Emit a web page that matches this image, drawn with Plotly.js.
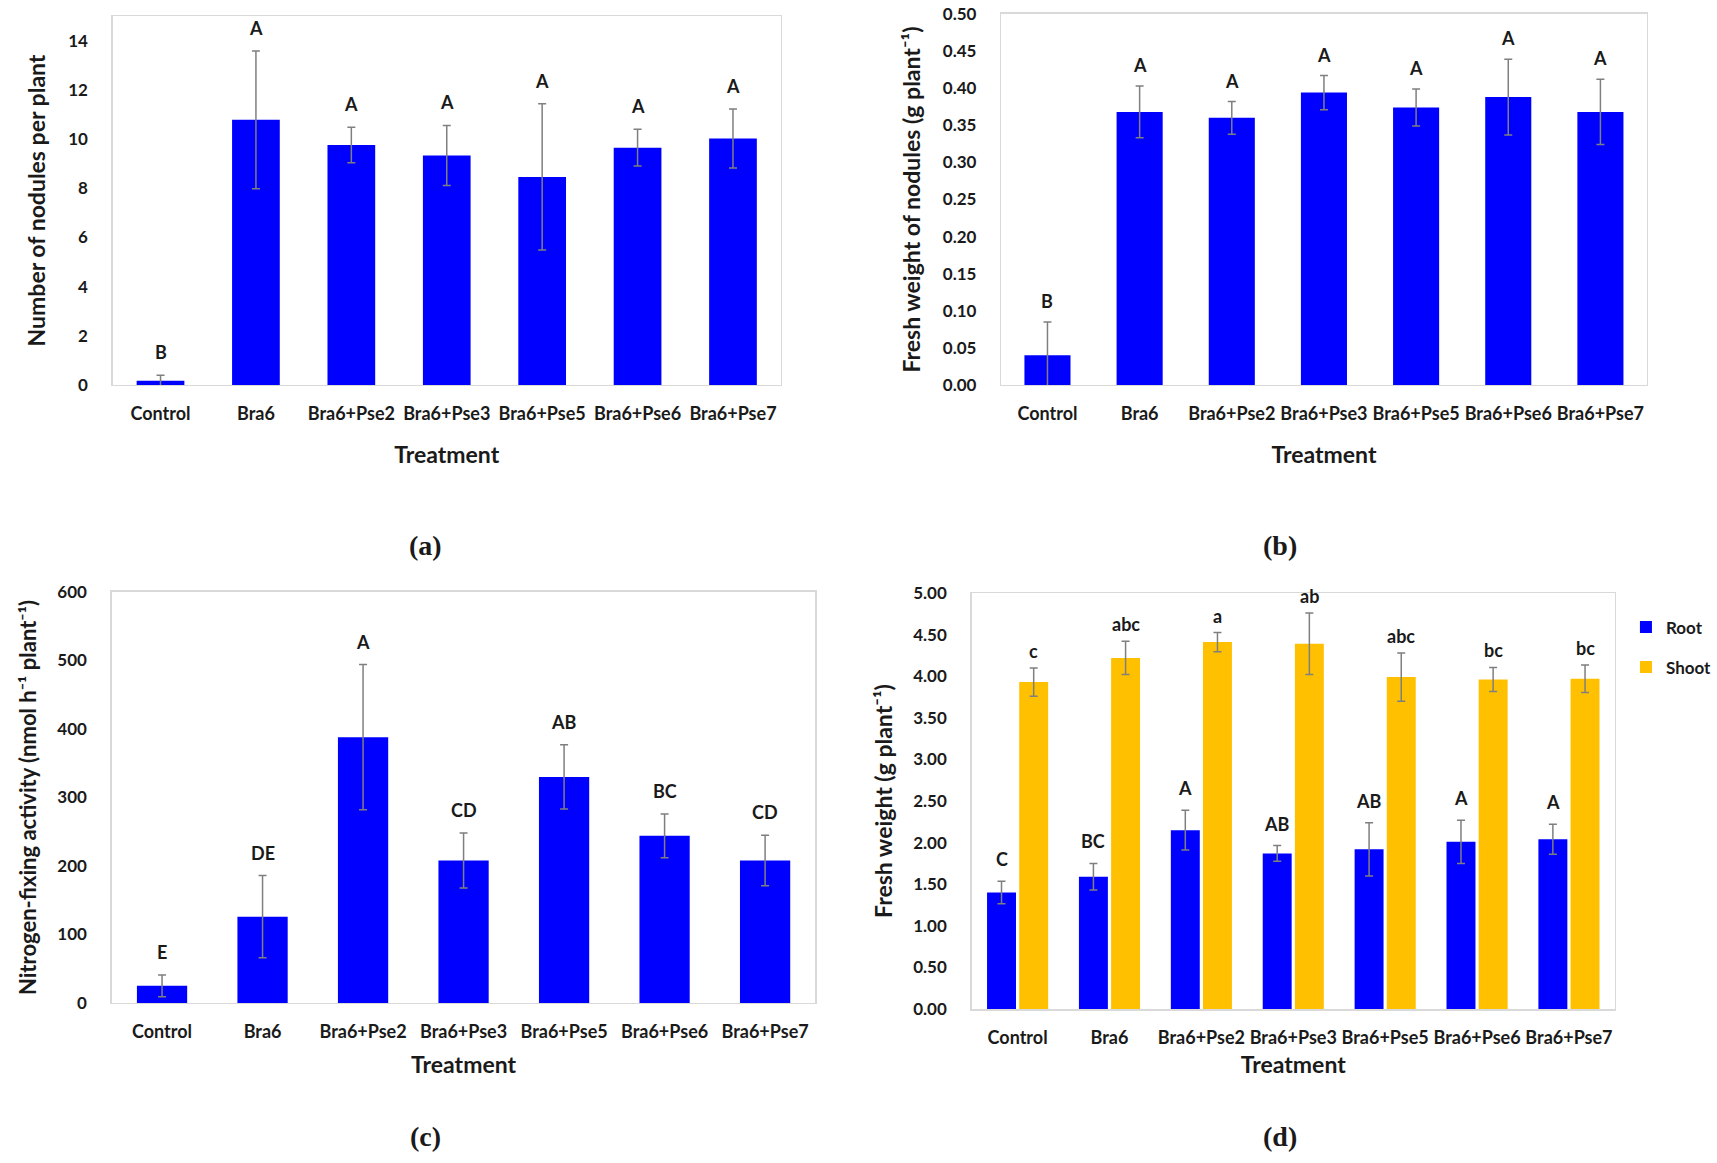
<!DOCTYPE html>
<html>
<head>
<meta charset="utf-8">
<script src="https://cdn.plot.ly/plotly-3.0.1.min.js"></script>
<style>html,body{margin:0;padding:0;background:#fff;}#chart{width:1717px;height:1163px;}</style>
</head>
<body>
<div id="chart"></div>
<script>
// ---- data ----
const categories = ["Control", "Bra6", "Bra6+Pse2", "Bra6+Pse3", "Bra6+Pse5", "Bra6+Pse6", "Bra6+Pse7"];

// (a) Number of nodules per plant
const nodulesMean = [0.17, 10.78, 9.76, 9.33, 8.46, 9.65, 10.02];
const nodulesErr  = [0.22, 2.80, 0.72, 1.22, 2.97, 0.75, 1.20];
const nodulesLetters = ["B", "A", "A", "A", "A", "A", "A"];

// (b) Fresh weight of nodules (g plant-1)
const noduleWtMean = [0.040, 0.368, 0.360, 0.394, 0.374, 0.388, 0.368];
const noduleWtErr  = [0.045, 0.035, 0.022, 0.023, 0.025, 0.051, 0.044];
const noduleWtLetters = ["B", "A", "A", "A", "A", "A", "A"];

// (c) Nitrogen-fixing activity (nmol h-1 plant-1)
const nfixMean = [25, 126, 388, 208, 330, 244, 208];
const nfixErr  = [16, 60, 106, 40, 47, 32, 37];
const nfixLetters = ["E", "DE", "A", "CD", "AB", "BC", "CD"];

// (d) Fresh weight (g plant-1)
const rootMean = [1.40, 1.59, 2.15, 1.87, 1.92, 2.01, 2.04];
const rootErr  = [0.135, 0.16, 0.24, 0.095, 0.32, 0.26, 0.18];
const rootLetters = ["C", "BC", "A", "AB", "AB", "A", "A"];
const shootMean = [3.93, 4.22, 4.41, 4.39, 3.99, 3.96, 3.97];
const shootErr  = [0.17, 0.20, 0.115, 0.37, 0.29, 0.145, 0.165];
const shootLetters = ["c", "abc", "a", "ab", "abc", "bc", "bc"];

// ---- styles ----
const BLUE = "#0000ff", GOLD = "#ffc000", ERRC = "#7f7f7f", TXT = "#1a1a1a";
const FONT = "Lato, 'Open Sans', sans-serif";
const xTickFont = {family: FONT, size: 18, color: TXT, weight: "bold"};
const yTickFont = {family: FONT, size: 17, color: TXT, weight: "bold"};
const titleFont = {family: FONT, size: 23, color: TXT, weight: "bold"};
const letterFont = {family: FONT, size: 18, color: TXT, weight: "bold"};

function errBar(arr) {
  return {type: "data", array: arr, visible: true, color: ERRC, thickness: 1.5, width: 4};
}
function barTrace(y, err, xa, ya, color, name, show, extra) {
  return Object.assign({
    type: "bar", x: categories, y: y, error_y: errBar(err),
    marker: {color: color}, xaxis: xa, yaxis: ya, name: name, showlegend: show,
    hoverinfo: "x+y"
  }, extra || {});
}

const traces = [
  barTrace(nodulesMean, nodulesErr, "x", "y", BLUE, "Nodules", false, {width: 0.5}),
  barTrace(noduleWtMean, noduleWtErr, "x2", "y2", BLUE, "Nodule weight", false, {width: 0.5}),
  barTrace(nfixMean, nfixErr, "x3", "y3", BLUE, "N-fixing activity", false, {width: 0.5}),
  barTrace(rootMean, rootErr, "x4", "y4", BLUE, "Root", true, {legendgroup: "root", offsetgroup: "r"}),
  barTrace(shootMean, shootErr, "x4", "y4", GOLD, "Shoot", true, {legendgroup: "shoot", offsetgroup: "s"})
];

// ---- annotations ----
const annotations = [];
function addLetters(means, errs, letters, xref, yref, dx, shift) {
  letters.forEach((t, i) => {
    annotations.push({
      x: i + dx, y: means[i] + errs[i], xref: xref, yref: yref, text: t,
      showarrow: false, yanchor: "middle", yshift: shift, font: letterFont
    });
  });
}
addLetters(nodulesMean, nodulesErr, nodulesLetters, "x", "y", 0, 23);
addLetters(noduleWtMean, noduleWtErr, noduleWtLetters, "x2", "y2", 0, 21);
addLetters(nfixMean, nfixErr, nfixLetters, "x3", "y3", 0, 23);
addLetters(rootMean, rootErr, rootLetters, "x4", "y4", -0.175, 22);
addLetters(shootMean, shootErr, shootLetters, "x4", "y4", 0.175, 17);

const panelFont = {family: "'Liberation Serif', 'DejaVu Serif', serif", size: 28, color: TXT, weight: "bold"};
[["(a)", 0.2505, 0.531], ["(b)", 0.7536, 0.531], ["(c)", 0.2505, 0.0225], ["(d)", 0.7536, 0.0225]].forEach(p => {
  annotations.push({x: p[1], y: p[2], xref: "paper", yref: "paper", text: p[0],
    showarrow: false, xanchor: "center", yanchor: "middle", font: panelFont});
});

// ---- axes ----
function xAxis(domain, anchor, titleStandoff) {
  return {
    domain: domain, anchor: anchor, type: "category", range: [-0.5, 6.5],
    showline: true, mirror: true, linecolor: "#d9d9d9", linewidth: 1.5,
    showgrid: false, ticks: "", tickfont: xTickFont, ticklabelstandoff: 12,
    title: {text: "Treatment", font: titleFont, standoff: titleStandoff},
    fixedrange: true
  };
}
function yAxis(domain, anchor, range, dtick, fmt, title, tsize, standoff) {
  return {
    domain: domain, anchor: anchor, range: range, dtick: dtick, tick0: 0, tickformat: fmt,
    showline: true, mirror: true, linecolor: "#d9d9d9", linewidth: 1.5,
    showgrid: false, zeroline: false, ticks: "", tickfont: yTickFont, ticklabelstandoff: 20,
    title: {text: title, font: Object.assign({}, titleFont, {size: tsize}), standoff: standoff},
    fixedrange: true
  };
}

const layout = {
  width: 1717, height: 1163,
  margin: {l: 0, r: 0, t: 0, b: 0},
  paper_bgcolor: "#ffffff", plot_bgcolor: "#ffffff",
  barmode: "group", bargap: 0.3, bargroupgap: 0.1,
  showlegend: true,
  legend: {x: 0.957, y: 0.476, xanchor: "left", yanchor: "top",
    font: {family: FONT, size: 17, color: TXT, weight: "bold"},
    tracegroupgap: 15, itemwidth: 30, bgcolor: "rgba(0,0,0,0)"},
  xaxis: xAxis([0.0664, 0.4595], "y", 24),
  yaxis: yAxis([0.6690, 0.9862], "x", [0, 15], 2, "d", "Number of nodules per plant", 23, 16),
  xaxis2: xAxis([0.5894, 0.9691], "y2", 24),
  yaxis2: yAxis([0.6690, 0.9880], "x2", [0, 0.5], 0.05, ".2f", "Fresh weight of nodules (g plant⁻¹)", 23, 16),
  xaxis3: xAxis([0.0658, 0.4799], "y3", 16),
  yaxis3: yAxis([0.1376, 0.4910], "x3", [0, 600], 100, "d", "Nitrogen-fixing activity (nmol h⁻¹ plant⁻¹)", 22, 14),
  xaxis4: xAxis([0.5719, 0.9505], "y4", 10),
  yaxis4: yAxis([0.1324, 0.4901], "x4", [0, 5], 0.5, ".2f", "Fresh weight (g plant⁻¹)", 23, 14),
  annotations: annotations
};

Plotly.newPlot("chart", traces, layout, {staticPlot: true, displayModeBar: false});
</script>
</body>
</html>
